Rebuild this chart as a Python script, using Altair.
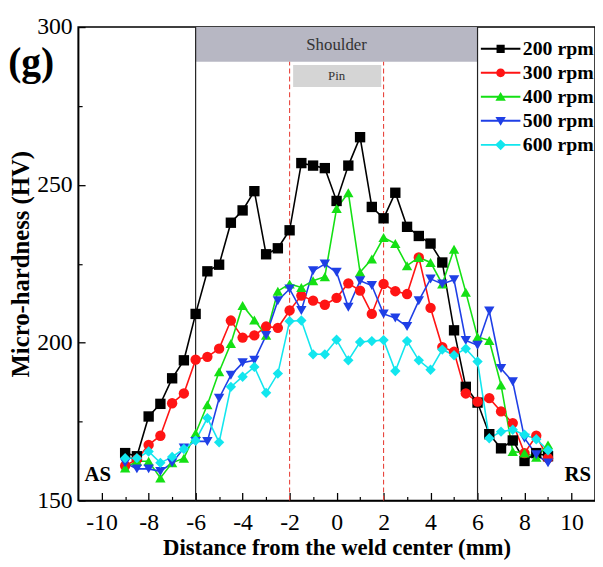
import altair as alt
import pandas as pd

FONT = "Liberation Serif"

x_mm = [-9, -8.5, -8, -7.5, -7, -6.5, -6, -5.5, -5, -4.5, -4, -3.5, -3, -2.5, -2, -1.5, -1, -0.5,
        0, 0.5, 1, 1.5, 2, 2.5, 3, 3.5, 4, 4.5, 5, 5.5, 6, 6.5, 7, 7.5, 8, 8.5, 9]

series = ["200 rpm", "300 rpm", "400 rpm", "500 rpm", "600 rpm"]

hv_200 = [165, 164, 176.6, 180.6, 188.7, 194.4, 209.1, 222.6, 224.7, 238.0, 241.9, 248.0, 228.0,
          229.9, 235.6, 256.9, 256.1, 255.3, 244.9, 256.1, 265.1, 243.0, 239.4, 247.5, 236.7,
          233.8, 231.4, 225.4, 203.9, 186.0, 181.0, 171.0, 166.5, 169.0, 162.5, 165.0, 164.0]
hv_300 = [161, 163, 167.6, 170.5, 180.8, 183.9, 194.6, 195.5, 198.1, 207.0, 201.6, 202.3, 205.1,
          204.7, 210.2, 214.9, 213.3, 212.0, 214.2, 218.8, 216.5, 209.1, 218.6, 216.3, 215.4,
          227.0, 211.0, 198.6, 197.1, 183.9, 181.3, 182.4, 178.2, 174.5, 165.0, 170.5, 163.4]
hv_400 = [160.3, 162.4, 162.4, 157.1, 161.9, 163.4, 171.3, 180.3, 190.8, 199.7, 211.8, 207.2, 202.3,
          216.3, 218.6, 217.5, 219.6, 220.9, 242.5, 247.5, 222.3, 226.5, 233.3, 231.4, 224.4,
          227.0, 225.4, 218.6, 229.6, 216.0, 201.8, 200.7, 186.6, 165.5, 165.0, 163.7, 167.6]
hv_500 = [161.9, 160, 160, 159.2, 161.9, 166.6, 168.7, 168.7, 182.4, 189.7, 193.6, 194.4, 202.3,
          213.3, 217.0, 210.2, 222.8, 224.9, 222.3, 211.2, 219.6, 218.1, 209.1, 207.8, 205.1,
          213.3, 220.2, 218.6, 219.9, 200.7, 199.2, 210.0, 191.8, 187.6, 169.7, 164.5, 161.9]
hv_600 = [163.4, 163.4, 165.5, 161.9, 163.8, 166.3, 169.0, 176.1, 168.4, 186.0, 189.2, 192.3, 184.1,
          190.2, 206.8, 207.0, 196.3, 196.3, 200.9, 194.4, 200.2, 200.5, 200.8, 191.0, 200.5,
          194.4, 191.4, 197.8, 196.0, 198.1, 194.0, 169.7, 171.8, 172.4, 170.8, 169.4, 165.9]

colors = ["#000000", "#ff1414", "#14e014", "#1f3fe6", "#12e6ee"]
shapes = ["square", "circle", "triangle-up", "triangle-down", "diamond"]
bar = "M-1.6,-0.08H1.6V0.08H-1.6Z"
legend_paths = [
    bar + "M-0.33,-0.33H0.33V0.33H-0.33Z",
    bar + "M-0.36,0A0.36,0.36 0 1,1 0.36,0A0.36,0.36 0 1,1 -0.36,0Z",
    bar + "M0,-0.4L0.42,0.32L-0.42,0.32Z",
    bar + "M-0.42,-0.32L0.42,-0.32L0,0.4Z",
    bar + "M0,-0.44L0.44,0L0,0.44L-0.44,0Z",
]

rows = []
for s, vals in zip(series, [hv_200, hv_300, hv_400, hv_500, hv_600]):
    for xv, yv in zip(x_mm, vals):
        rows.append({"x": xv, "hv": yv, "rpm": s})
df = pd.DataFrame(rows)

xs = alt.Scale(domain=[-11, 11], nice=False, zero=False)
ys = alt.Scale(domain=[150, 300], nice=False, zero=False)
cs = alt.Scale(domain=series, range=colors)

W, H = 523, 479

# shoulder box with main axes (labels + titles)
shoulder = pd.DataFrame({"x": [-6], "x2": [6], "y": [289], "y2": [300]})
base = alt.Chart(shoulder).mark_rect(color="#b7b7c3").encode(
    x=alt.X("x:Q", scale=xs, axis=alt.Axis(
        orient="bottom", values=[-10, -8, -6, -4, -2, 0, 2, 4, 6, 8, 10], ticks=False, tickSize=0,
        labelExpr="'' + datum.value",
        labelFont=FONT, labelFontSize=24, labelColor="black", labelPadding=10,
        labelFlush=False, labelOverlap=False, grid=False, domainColor="black", domainWidth=1.5,
        title="Distance from the weld center (mm)", titleFont=FONT, titleFontSize=23,
        titleFontWeight="bold", titleColor="black", titlePadding=3)),
    x2="x2:Q",
    y=alt.Y("y:Q", scale=ys, axis=alt.Axis(
        orient="left", values=[150, 200, 250, 300], ticks=False, tickSize=0,
        labelFont=FONT, labelFontSize=24, labelColor="black", labelPadding=6,
        labelFlush=False, labelOverlap=False, grid=False, domainColor="black", domainWidth=1.5,
        title="Micro-hardness (HV)", titleFont=FONT, titleFontSize=25,
        titleFontWeight="bold", titleColor="black", titlePadding=3)),
    y2="y2:Q",
)

# pin box with inward major ticks
pin = pd.DataFrame({"x": [-1.85], "x2": [1.9], "y": [281], "y2": [288]})
pin_layer = alt.Chart(pin).mark_rect(color="#d5d5d5").encode(
    x=alt.X("x:Q", scale=xs, axis=alt.Axis(
        orient="top", offset=-H, values=[-10, -8, -6, -4, -2, 0, 2, 4, 6, 8, 10],
        labels=False, domain=False, grid=False, tickSize=8, tickWidth=1.3,
        tickColor="black", title=None)),
    x2="x2:Q",
    y=alt.Y("y:Q", scale=ys, axis=alt.Axis(
        orient="right", offset=-W, values=[150, 200, 250, 300], labels=False,
        domain=False, grid=False, tickSize=7, tickWidth=1.3, tickColor="black", title=None)),
    y2="y2:Q",
)

# vertical reference lines
solid = pd.DataFrame({"x": [-6, 6], "y": [150, 150], "y2": [300, 300]})
dashed = pd.DataFrame({"x": [-2, 2], "y": [150, 150], "y2": [289, 289]})
solid_layer = alt.Chart(solid).mark_rule(color="#222222", strokeWidth=1.2).encode(
    x=alt.X("x:Q", scale=xs, axis=None), y=alt.Y("y:Q", scale=ys, axis=None), y2="y2:Q")
dashed_layer = alt.Chart(dashed).mark_rule(color="#e8453c", strokeWidth=1.1,
                                           strokeDash=[5, 3]).encode(
    x=alt.X("x:Q", scale=xs, axis=None), y=alt.Y("y:Q", scale=ys, axis=None), y2="y2:Q")

# lines with inward minor ticks
lines = alt.Chart(df).mark_line(strokeWidth=1.6).encode(
    x=alt.X("x:Q", scale=xs, axis=alt.Axis(
        orient="top", offset=-H, values=[-9, -7, -5, -3, -1, 1, 3, 5, 7, 9],
        labels=False, domain=False, grid=False, tickSize=4, tickWidth=1.2,
        tickColor="black", title=None)),
    y=alt.Y("hv:Q", scale=ys, axis=alt.Axis(
        orient="right", offset=-W, values=[175, 225, 275], labels=False,
        domain=False, grid=False, tickSize=4, tickWidth=1.2, tickColor="black", title=None)),
    color=alt.Color("rpm:N", scale=cs, legend=None),
    detail="rpm:N",
)

points = alt.Chart(df).mark_point(filled=True, size=110, opacity=1).encode(
    x=alt.X("x:Q", scale=xs, axis=None),
    y=alt.Y("hv:Q", scale=ys, axis=None),
    color=alt.Color("rpm:N", scale=cs, legend=None),
    shape=alt.Shape("rpm:N", scale=alt.Scale(domain=series, range=shapes), legend=None),
)

leg = dict(orient="none", legendX=415, legendY=9.5, title=None, labelFont=FONT,
           labelFontSize=20, labelFontWeight="bold", labelColor="black", symbolSize=625,
           symbolStrokeWidth=0, labelOffset=10, rowPadding=1.3, padding=0, symbolOpacity=1)
legend_layer = alt.Chart(df).mark_point(filled=True, size=1, opacity=0).encode(
    x=alt.X("x:Q", scale=xs, axis=None),
    y=alt.Y("hv:Q", scale=ys, axis=None),
    color=alt.Color("rpm:N", scale=cs, legend=alt.Legend(**leg)),
    shape=alt.Shape("rpm:N", scale=alt.Scale(domain=series, range=legend_paths),
                    legend=alt.Legend(**leg)),
)

labels = pd.DataFrame({
    "x": [0, 0, -10.17, 10.27, -13.0],
    "y": [294.4, 284.6, 158.1, 158.1, 288.7],
    "t": ["Shoulder", "Pin", "AS", "RS", "(g)"],
})
t_shoulder = alt.Chart(labels.iloc[[0]]).mark_text(font=FONT, fontSize=17, color="#333333",
                                                   baseline="middle").encode(
    x=alt.X("x:Q", scale=xs, axis=None), y=alt.Y("y:Q", scale=ys, axis=None), text="t:N")
t_pin = alt.Chart(labels.iloc[[1]]).mark_text(font=FONT, fontSize=13, color="#333333",
                                              baseline="middle").encode(
    x=alt.X("x:Q", scale=xs, axis=None), y=alt.Y("y:Q", scale=ys, axis=None), text="t:N")
t_side = alt.Chart(labels.iloc[[2, 3]]).mark_text(font=FONT, fontSize=21, fontWeight="bold",
                                                  color="black", baseline="middle").encode(
    x=alt.X("x:Q", scale=xs, axis=None), y=alt.Y("y:Q", scale=ys, axis=None), text="t:N")
t_g = alt.Chart(labels.iloc[[4]]).mark_text(font=FONT, fontSize=40, fontWeight="bold",
                                            color="black", baseline="middle").encode(
    x=alt.X("x:Q", scale=xs, axis=None), y=alt.Y("y:Q", scale=ys, axis=None), text="t:N")

chart = alt.layer(
    base, pin_layer, solid_layer, dashed_layer, lines, points, legend_layer,
    t_shoulder, t_pin, t_side, t_g,
).resolve_scale(
    color="independent", shape="independent"
).resolve_axis(
    x="independent", y="independent"
).properties(
    width=W, height=H,
    autosize=alt.AutoSizeParams(type="none"),
    padding={"left": 71, "top": 16, "right": 0, "bottom": 58},
).configure_view(stroke="black", strokeWidth=1.5)

chart.save("out.html", embed_options={"renderer": "svg", "actions": False})
